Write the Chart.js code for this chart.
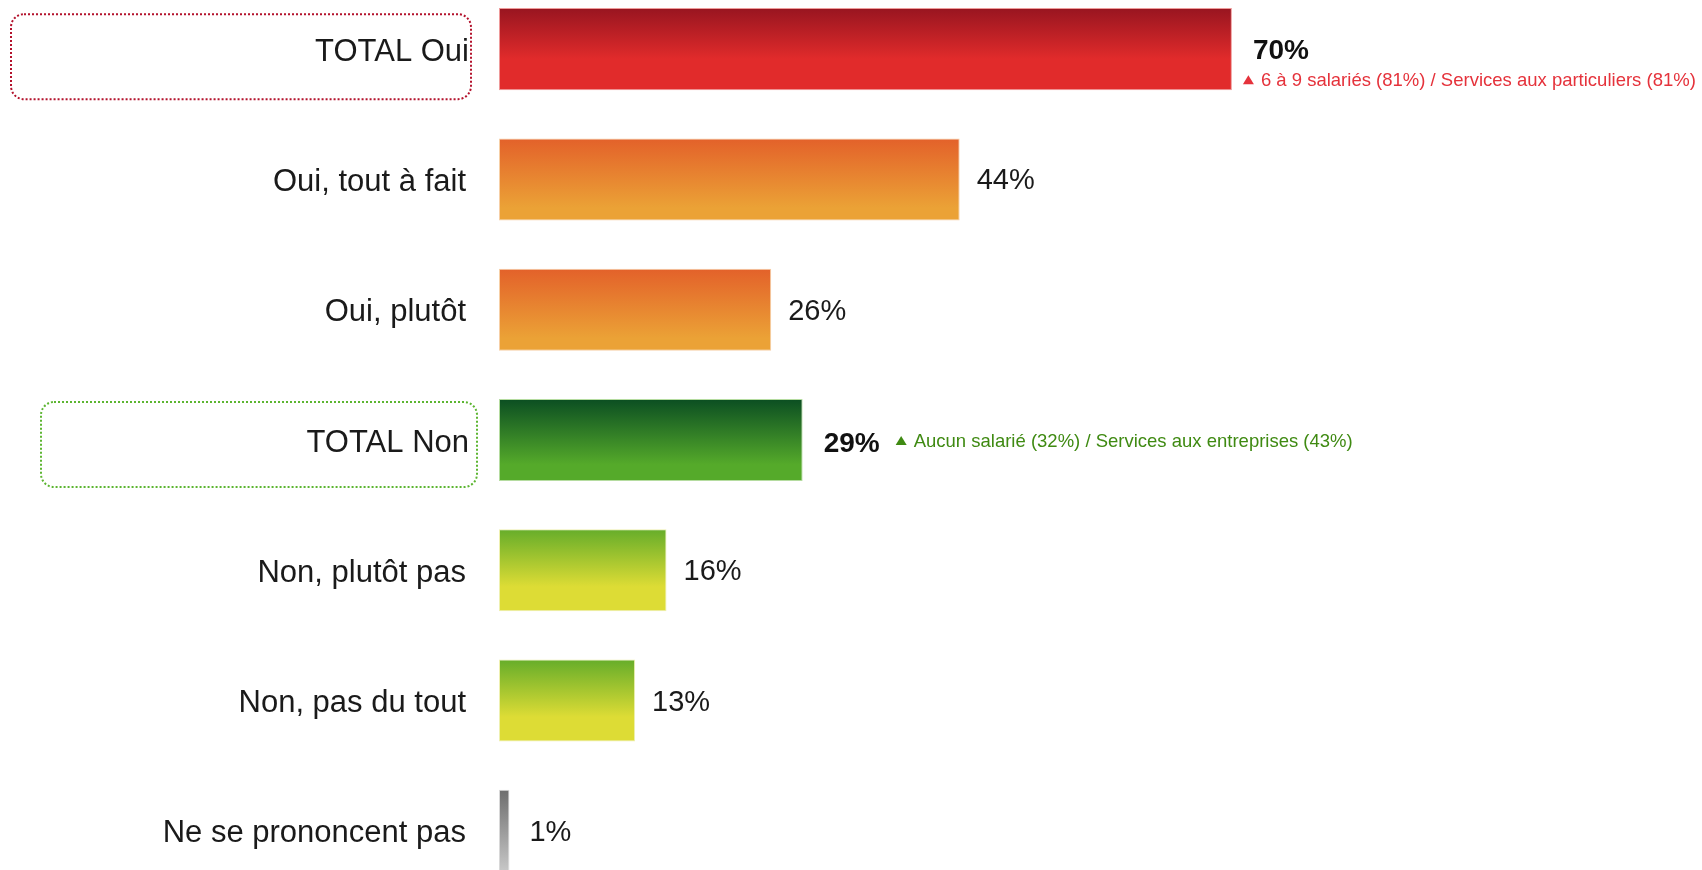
<!DOCTYPE html>
<html lang="fr">
<head>
<meta charset="utf-8">
<title>Répartition des réponses</title>
<script src="https://cdn.jsdelivr.net/npm/chart.js@4/dist/chart.umd.min.js"></script>
<style>
  html, body { margin: 0; padding: 0; background: #ffffff; overflow: hidden; }
  #wrap { position: absolute; left: 0; top: -16px; width: 1702px; height: 912px; }
</style>
</head>
<body>
<div id="wrap"><canvas id="chart"></canvas></div>
<script>
// Answer categories, top to bottom
const categories = [
  'TOTAL Oui',
  'Oui, tout à fait',
  'Oui, plutôt',
  'TOTAL Non',
  'Non, plutôt pas',
  'Non, pas du tout',
  'Ne se prononcent pas'
];

// Share of respondents (%)
const values = [70, 44, 26, 29, 16, 13, 1];

// Sub-groups that stand out above the total
const highlightNotes = [
  '6 à 9 salariés (81%) / Services aux particuliers (81%)',
  '',
  '',
  'Aucun salarié (32%) / Services aux entreprises (43%)',
  '',
  '',
  ''
];

// Rows that are totals (bold value, framed label)
const totalRows = [true, false, false, true, false, false, false];

// Vertical gradient per row: [top colour, stop, bottom colour, edge tint]
const rowGradients = [
  ['#981520', 0.62, '#e12b2b', '#ee9a9a'],
  ['#e3612a', 0.85, '#eba236', '#f6cfa6'],
  ['#e3612a', 0.85, '#eba236', '#f6cfa6'],
  ['#0b4e22', 0.80, '#55aa2a', '#b5dca0'],
  ['#66ad2a', 0.70, '#dddc35', '#eef0b0'],
  ['#66ad2a', 0.70, '#dddc35', '#eef0b0'],
  ['#6d6d6d', 1.00, '#c8c8c8', '#d8d8d8']
];

const BAR_FRACTION = 0.63;
const LABEL_RIGHT = 466;
const FONT = '"Liberation Sans", Arial, "DejaVu Sans", sans-serif';

function barBounds(chart, i) {
  const y = chart.scales.y.getPixelForValue(i);
  const band = chart.chartArea.height / categories.length;
  const h = band * BAR_FRACTION;
  return { top: y - h / 2, bottom: y + h / 2, center: y };
}

function gradientFor(context) {
  const chart = context.chart;
  const i = context.dataIndex;
  const g = rowGradients[i];
  if (!chart.chartArea || !chart.scales.y) return g[2];
  const b = barBounds(chart, i);
  const grad = chart.ctx.createLinearGradient(0, b.top, 0, b.bottom);
  grad.addColorStop(0, g[0]);
  grad.addColorStop(g[1], g[2]);
  grad.addColorStop(1, g[2]);
  return grad;
}

// Dotted rounded frames around the total labels
const frames = [
  { index: 0, left: 11, right: 471, above: 35, below: 50, color: '#b3122c' },
  { index: 3, left: 41, right: 477, above: 38, below: 47, color: '#5cb531' }
];

const categoryLabelPlugin = {
  id: 'categoryLabels',
  beforeDraw(chart) {
    const ctx = chart.ctx;
    ctx.save();
    frames.forEach(f => {
      const c = chart.scales.y.getPixelForValue(f.index);
      ctx.beginPath();
      ctx.setLineDash([2, 2]);
      ctx.lineWidth = 2;
      ctx.strokeStyle = f.color;
      ctx.roundRect(f.left, c - f.above, f.right - f.left, f.above + f.below, 13);
      ctx.stroke();
    });
    ctx.setLineDash([]);
    ctx.fillStyle = '#1a1a1a';
    ctx.font = '31px ' + FONT;
    ctx.textAlign = 'right';
    ctx.textBaseline = 'middle';
    categories.forEach((label, i) => {
      const c = chart.scales.y.getPixelForValue(i);
      ctx.fillText(label, LABEL_RIGHT + (totalRows[i] ? 3 : 0), c + 3);
    });
    ctx.restore();
  }
};

// Value labels and highlight notes to the right of each bar
const valueLabelPlugin = {
  id: 'valueLabels',
  afterDatasetsDraw(chart) {
    const ctx = chart.ctx;
    const xs = chart.scales.x;
    ctx.save();
    values.forEach((v, i) => {
      const b = barBounds(chart, i);
      const end = xs.getPixelForValue(v);
      ctx.textBaseline = 'middle';
      ctx.textAlign = 'left';
      if (totalRows[i]) {
        ctx.fillStyle = '#111111';
        ctx.font = 'bold 28px ' + FONT;
        const txt = v + '%';
        const vx = end + 21;
        const vy = i === 0 ? b.center + 2 : b.center + 4;
        ctx.fillText(txt, vx, vy);
        const note = highlightNotes[i];
        if (note) {
          const color = i === 0 ? '#e5323b' : '#3f8a12';
          let tx, ty;
          if (i === 0) {
            tx = end + 11; ty = b.center + 31;
          } else {
            tx = vx + ctx.measureText(txt).width + 16; ty = b.center + 1;
          }
          ctx.fillStyle = color;
          ctx.beginPath();
          ctx.moveTo(tx, ty + 4);
          ctx.lineTo(tx + 11, ty + 4);
          ctx.lineTo(tx + 5.5, ty - 5);
          ctx.closePath();
          ctx.fill();
          ctx.font = '18.5px ' + FONT;
          ctx.fillText(note, tx + 18, ty + 1);
        }
      } else {
        ctx.fillStyle = '#1a1a1a';
        ctx.font = '29px ' + FONT;
        ctx.fillText(v + '%', end + (v < 5 ? 20 : 17), b.center + 2);
      }
    });
    ctx.restore();
  }
};

new Chart(document.getElementById('chart'), {
  type: 'bar',
  data: {
    labels: categories,
    datasets: [{
      data: values,
      backgroundColor: gradientFor,
      borderColor: (c) => rowGradients[c.dataIndex][3],
      borderWidth: 1,
      borderSkipped: false,
      barPercentage: BAR_FRACTION,
      categoryPercentage: 1
    }]
  },
  options: {
    indexAxis: 'y',
    responsive: true,
    maintainAspectRatio: false,
    animation: false,
    layout: { padding: { left: 499, right: 156, top: 0, bottom: 0 } },
    plugins: {
      legend: { display: false },
      tooltip: { enabled: false }
    },
    scales: {
      x: { display: false, min: 0, max: 100 },
      y: { display: false, offset: true }
    }
  },
  plugins: [categoryLabelPlugin, valueLabelPlugin]
});
</script>
</body>
</html>
